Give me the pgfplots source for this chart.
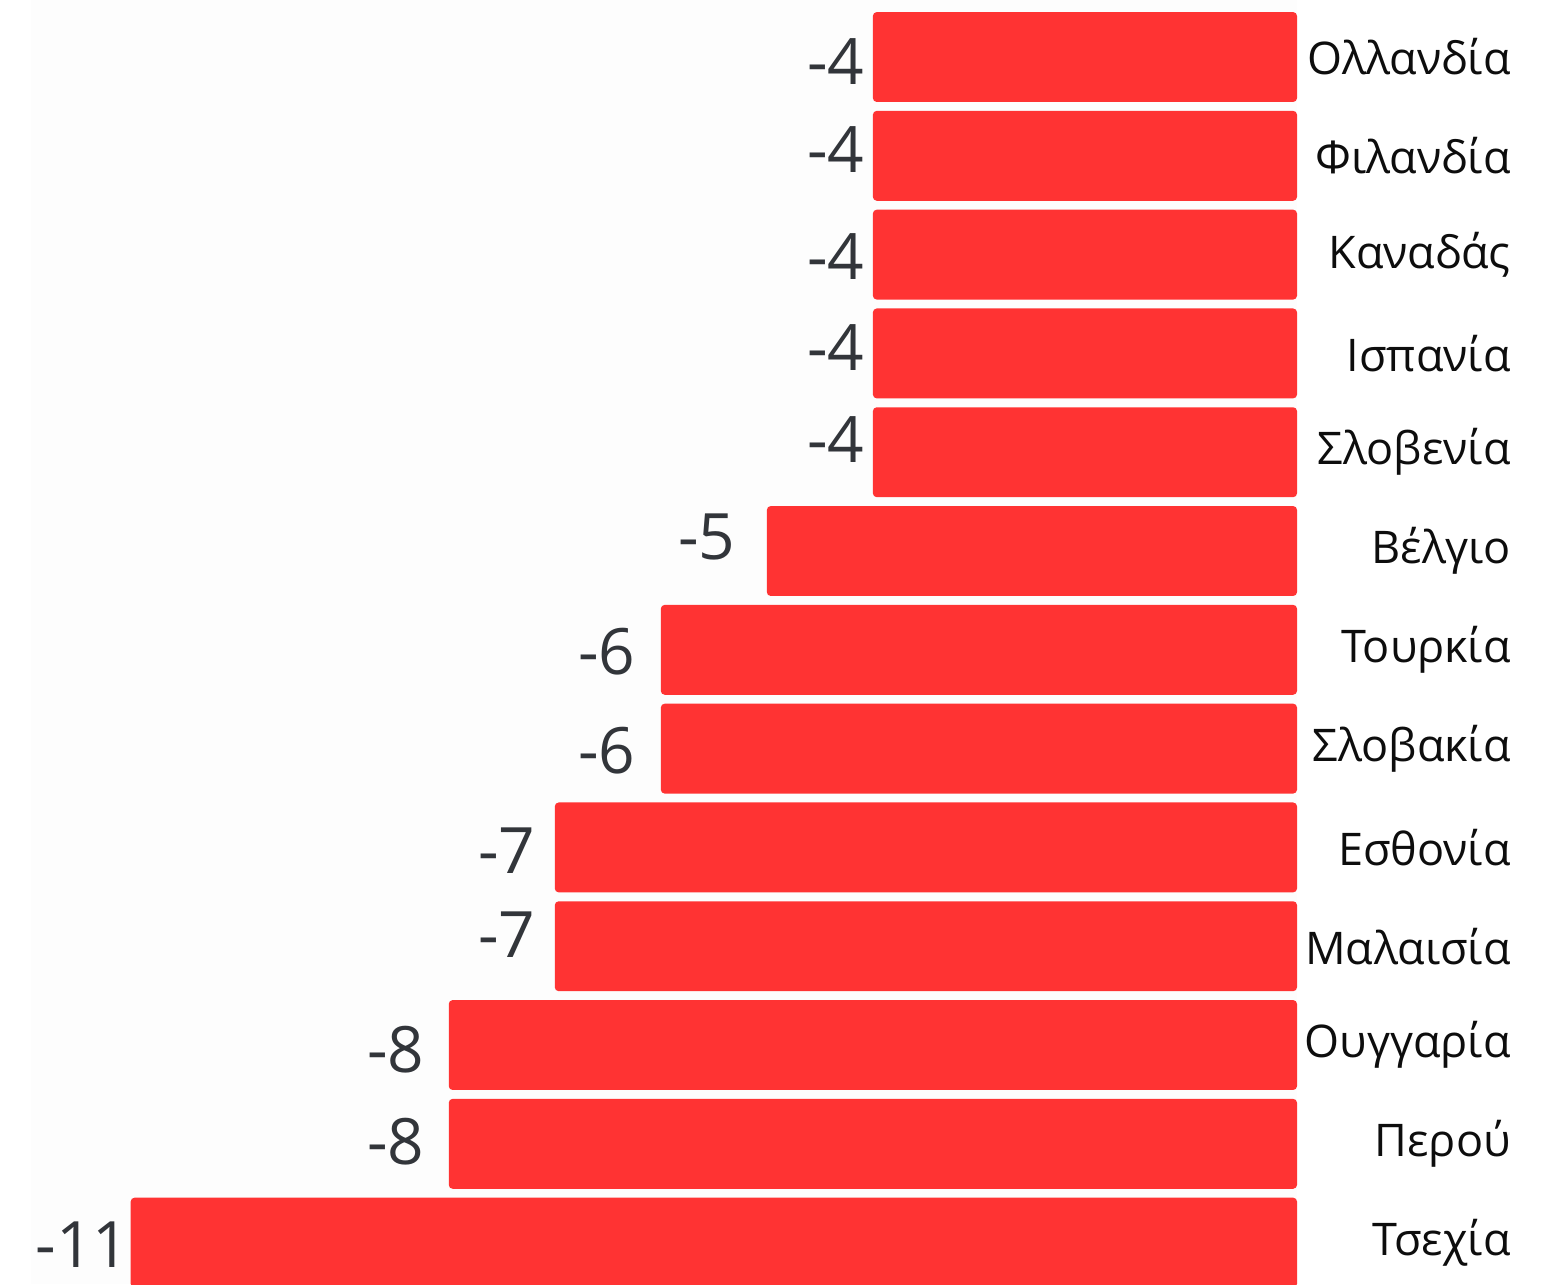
\documentclass[border=0pt]{standalone}
\usepackage{pgfplots}
\usepackage{pgfplotstable}
\pgfplotsset{compat=1.18}
\usepackage{fontspec}
\setmainfont{Open Sans}
\definecolor{barred}{HTML}{FF3333}
\definecolor{valgray}{HTML}{32353A}
\definecolor{bgfaint}{HTML}{FDFDFD}
\pgfplotstableread{
x y dx dy
-4 0 0.04 -0.045
-4 1 0.04 0.065
-4 2 0.04 -0.02
-4 3 0.04 0.06
-4 4 0.04 0.13
-5 5 -0.19 0.145
-6 6 -0.13 -0.02
-6 7 -0.13 -0.02
-7 8 -0.07 -0.03
-7 9 -0.07 0.12
-8 10 -0.12 -0.05
-8 11 -0.12 0.025
-11 12 0.11 -0.02
}\datatable
\begin{document}
\begin{tikzpicture}[x=1cm,y=1cm]
\useasboundingbox (0,0) rectangle (15.6,12.84);
\begin{axis}[
  at={(0.31cm,0cm)}, anchor=south west,
  scale only axis, width=12.66cm, height=12.84cm,
  xmin=-11.94, xmax=0, ymin=-0.577, ymax=12.419, y dir=reverse,
  xbar, bar width=0.91,
  axis line style={draw=none},
  axis background/.style={fill=bgfaint},
  major tick length=0pt,
  xtick=\empty,
  ytick={0,...,12},
  yticklabels={Ολλανδία,Φιλανδία,Καναδάς,Ισπανία,Σλοβενία,Βέλγιο,Τουρκία,Σλοβακία,Εσθονία,Μαλαισία,Ουγγαρία,Περού,Τσεχία},
  yticklabel pos=right,
  yticklabel style={anchor=east, xshift=2.26cm, font=\fontsize{12.8}{14}\selectfont, text=black!95},
  /pgf/number format/assume math mode=true,
]
\addplot[fill=barred, draw=none, rounded corners=1.1pt,
  point meta=x,
  visualization depends on={\thisrow{dx} \as \dx},
  visualization depends on={\thisrow{dy} \as \dy},
  nodes near coords={\raisebox{\dy cm}[\height][\depth]{\pgfmathprintnumber[int detect,assume math mode=true]{\pgfplotspointmeta}}\hspace*{-\dx cm}},
  nodes near coords style={anchor=east, font=\fontsize{18.2}{20}\selectfont, text=valgray},
] table[x=x, y=y] {\datatable};
\end{axis}
\end{tikzpicture}
\end{document}
